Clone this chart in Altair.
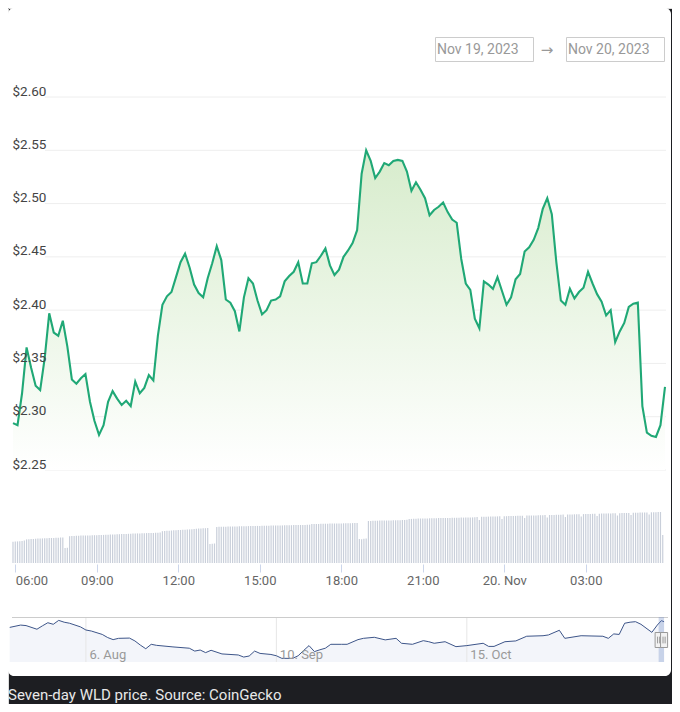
import altair as alt
import pandas as pd

# ---------------- data ----------------
price_start = "2023-11-19T05:55Z"
prices = [
    2.294, 2.292, 2.322, 2.365, 2.346, 2.329, 2.325, 2.355, 2.397, 2.379,
    2.376, 2.390, 2.366, 2.335, 2.331, 2.336, 2.340, 2.314, 2.296, 2.283,
    2.292, 2.314, 2.324, 2.317, 2.311, 2.315, 2.310, 2.333, 2.322, 2.327,
    2.339, 2.334, 2.376, 2.405, 2.413, 2.417, 2.431, 2.445, 2.453, 2.440,
    2.424, 2.416, 2.412, 2.430, 2.444, 2.460, 2.447, 2.410, 2.407, 2.399,
    2.380, 2.412, 2.430, 2.425, 2.409, 2.396, 2.400, 2.409, 2.410, 2.413,
    2.427, 2.432, 2.436, 2.445, 2.425, 2.425, 2.444, 2.445, 2.451, 2.458,
    2.442, 2.433, 2.438, 2.450, 2.456, 2.463, 2.475, 2.528, 2.550, 2.540,
    2.524, 2.530, 2.538, 2.536, 2.540, 2.541, 2.540, 2.530, 2.512, 2.520,
    2.513, 2.505, 2.489, 2.494, 2.497, 2.501, 2.492, 2.485, 2.482, 2.448,
    2.425, 2.419, 2.392, 2.383, 2.427, 2.424, 2.420, 2.431, 2.418, 2.405,
    2.412, 2.429, 2.434, 2.455, 2.459, 2.466, 2.477, 2.495, 2.505, 2.490,
    2.445, 2.409, 2.405, 2.420, 2.411, 2.417, 2.421, 2.436, 2.425, 2.415,
    2.408, 2.395, 2.400, 2.370, 2.380, 2.388, 2.403, 2.406, 2.407, 2.310,
    2.285, 2.282, 2.281, 2.292, 2.328,
]

volume_start = "2023-11-19T05:55Z"
volumes = [
    212, 214, 216, 218, 220, 224, 236, 238, 240, 241, 243, 244,
    245, 246, 247, 248, 249, 250, 251, 252, 253, 255, 256, 150,
    152, 268, 270, 271, 272, 273, 274, 274, 275, 276, 276, 277,
    278, 278, 279, 280, 281, 282, 283, 284, 285, 286, 287, 288,
    289, 290, 291, 292, 293, 294, 295, 296, 296, 297, 298, 299,
    300, 300, 301, 302, 303, 305, 318, 320, 322, 323, 325, 327,
    328, 329, 330, 332, 333, 334, 336, 338, 340, 342, 344, 346,
    347, 348, 350, 190, 192, 195, 360, 362, 362, 363, 363, 364,
    365, 365, 366, 366, 367, 367, 368, 368, 369, 369, 370, 370,
    371, 371, 372, 372, 373, 373, 374, 374, 375, 375, 376, 376,
    377, 377, 378, 378, 379, 379, 380, 380, 381, 381, 382, 383,
    390, 390, 391, 391, 392, 392, 393, 393, 394, 394, 395, 395,
    396, 396, 397, 397, 398, 398, 399, 399, 400, 240, 238, 242,
    245, 420, 421, 422, 423, 423, 424, 424, 425, 425, 426, 426,
    427, 427, 428, 428, 429, 430, 433, 440, 441, 442, 443, 444,
    445, 445, 446, 446, 447, 447, 448, 448, 449, 449, 450, 450,
    451, 451, 452, 452, 453, 453, 454, 454, 455, 455, 456, 456,
    458, 460, 430, 462, 462, 463, 464, 464, 465, 466, 466, 467,
    440, 468, 468, 469, 470, 470, 471, 472, 472, 473, 450, 474,
    475, 475, 476, 476, 477, 478, 478, 479, 455, 480, 480, 481,
    482, 482, 483, 484, 460, 485, 485, 486, 487, 487, 488, 465,
    489, 490, 490, 491, 492, 492, 470, 493, 494, 494, 495, 496,
    496, 497, 498, 475, 498, 499, 500, 500, 501, 480, 502, 503,
    503, 504, 505, 505, 506, 485, 507, 508, 508, 510, 510, 280,
]

nav_dates = [
    "2023-07-23", "2023-07-25", "2023-07-26", "2023-07-28", "2023-07-29", "2023-07-30", "2023-07-31",
    "2023-08-01", "2023-08-02", "2023-08-03", "2023-08-05", "2023-08-06", "2023-08-07", "2023-08-09",
    "2023-08-10", "2023-08-11", "2023-08-12", "2023-08-14", "2023-08-15", "2023-08-16", "2023-08-17",
    "2023-08-18", "2023-08-19", "2023-08-22", "2023-08-25", "2023-08-26", "2023-08-27", "2023-08-28",
    "2023-08-29", "2023-08-31",
    "2023-09-03", "2023-09-04", "2023-09-05", "2023-09-06", "2023-09-07", "2023-09-09", "2023-09-10",
    "2023-09-11", "2023-09-13", "2023-09-14", "2023-09-15", "2023-09-16", "2023-09-17", "2023-09-18",
    "2023-09-19", "2023-09-20", "2023-09-22", "2023-09-23", "2023-09-25", "2023-09-26", "2023-09-28",
    "2023-09-30",
    "2023-10-02", "2023-10-03", "2023-10-05", "2023-10-07", "2023-10-08", "2023-10-09", "2023-10-11",
    "2023-10-13", "2023-10-15", "2023-10-18", "2023-10-19", "2023-10-20", "2023-10-22", "2023-10-24",
    "2023-10-26", "2023-10-29", "2023-10-30",
    "2023-11-01", "2023-11-02", "2023-11-05", "2023-11-07", "2023-11-09", "2023-11-10", "2023-11-11",
    "2023-11-12", "2023-11-13", "2023-11-14", "2023-11-15", "2023-11-16", "2023-11-18",
    "2023-11-19T00:00", "2023-11-19T18:00", "2023-11-20T06:00",
]
nav_prices = [
    2.19, 2.28, 2.26, 2.12, 2.25, 2.37, 2.31,
    2.46, 2.39, 2.35, 2.21, 2.09, 2.05, 1.92, 1.80, 1.72, 1.77, 1.78, 1.67, 1.51, 1.37,
    1.54, 1.50, 1.44, 1.39, 1.28, 1.32, 1.22, 1.31, 1.17,
    1.13, 1.05, 1.09, 1.28, 1.19, 1.15, 1.10, 1.00, 1.00, 1.10, 1.30, 1.49, 1.26, 1.33,
    1.39, 1.54, 1.54, 1.54, 1.72, 1.77, 1.81, 1.71,
    1.77, 1.58, 1.54, 1.68, 1.64, 1.58, 1.64, 1.45, 1.49, 1.58, 1.46, 1.46, 1.64, 1.67,
    1.85, 1.87, 1.90,
    2.08, 1.77, 1.87, 1.86, 1.85, 1.77, 1.94, 1.92, 2.35, 2.39, 2.41, 2.31, 2.00,
    2.28, 2.45, 2.41,
]

y_ticks = [2.25, 2.30, 2.35, 2.40, 2.45, 2.50, 2.55, 2.60]
x_tick_times = ["2023-11-19T06:00Z", "2023-11-19T09:00Z", "2023-11-19T12:00Z", "2023-11-19T15:00Z",
                "2023-11-19T18:00Z", "2023-11-19T21:00Z", "2023-11-20T00:00Z", "2023-11-20T03:00Z"]
nav_tick_dates = ["2023-08-06T00:00Z", "2023-09-10T00:00Z", "2023-10-15T00:00Z"]
main_span = ["2023-11-19T05:55Z", "2023-11-20T05:55Z"]
nav_span = ["2023-07-23T10:00Z", "2023-11-20T10:00Z"]
range_labels = ["Nov 19, 2023", "Nov 20, 2023"]
range_ends = ["2023-11-19T05:55Z", "2023-11-20T05:55Z"]
caption = "Seven-day WLD price. Source: CoinGecko"


def ms(s):
    return int(pd.Timestamp(s).value // 10**6)


def ms_list(values):
    return [int(v) for v in (pd.DatetimeIndex(pd.to_datetime(values, format="ISO8601", utc=True)).asi8 // 10**6)]


W, H = 664, 696
FONT = "Roboto"


def px_domain(span, p0, p1, width):
    # domain such that span[0] sits at pixel p0 and span[1] at pixel p1 on a [0, width] range
    a, b = ms(span[0]), ms(span[1])
    per_px = (b - a) / (p1 - p0)
    return [a - p0 * per_px, b + (width - p1) * per_px]


# ---------------- tables ----------------
price_df = pd.DataFrame({
    "t": ms_list(pd.date_range(price_start, periods=len(prices), freq="10min")),
    "price": prices,
})
vol_df = pd.DataFrame({
    "t": ms_list(pd.date_range(volume_start, periods=len(volumes), freq="5min")),
    "volume": volumes,
})
nav_df = pd.DataFrame({"d": ms_list(nav_dates), "nav": nav_prices})
nav_tick_df = pd.DataFrame({"d": ms_list(nav_tick_dates)})
range_df = pd.DataFrame({"start": [ms(range_ends[0])], "end": [ms(range_ends[1])]})
handle_df = pd.DataFrame({"d": ms_list(range_ends)})
one = pd.DataFrame({"a": [0]})

main_x = alt.Scale(domain=px_domain(main_span, 5, 657, W), nice=False, zero=False)
main_y = alt.Scale(domain=[2.25, 2.60], range=[462, 89], nice=False, zero=False)
vol_y = alt.Scale(domain=[0, 580], range=[555, 497], nice=False)
nav_x = alt.Scale(domain=px_domain(nav_span, 4, 657, W), nice=False, zero=False)
nav_y = alt.Scale(domain=[0.86, 2.59], range=[654, 609], nice=False, zero=False)

# ---------------- layers ----------------
card = alt.Chart(one).mark_rect(color="#ffffff", cornerRadius=6).encode(
    x=alt.value(0), x2=alt.value(663), y=alt.value(0), y2=alt.value(668))

box1 = alt.Chart(one).mark_rect(fill="#ffffff", stroke="#cccccc", strokeWidth=1).encode(
    x=alt.value(427.5), x2=alt.value(525.5), y=alt.value(29.5), y2=alt.value(53.5))
box2 = alt.Chart(one).mark_rect(fill="#ffffff", stroke="#cccccc", strokeWidth=1).encode(
    x=alt.value(558.5), x2=alt.value(656.5), y=alt.value(29.5), y2=alt.value(53.5))
txt1 = alt.Chart(one).mark_text(text=range_labels[0], align="left", baseline="middle",
                                fontSize=14, color="#999999", font=FONT).encode(
    x=alt.value(429), y=alt.value(41.5))
txt2 = alt.Chart(one).mark_text(text=range_labels[1], align="left", baseline="middle",
                                fontSize=14, color="#999999", font=FONT).encode(
    x=alt.value(560), y=alt.value(41.5))
arrow = alt.Chart(one).mark_text(text="→", align="center", baseline="middle",
                                 fontSize=15, color="#999999", font="DejaVu Sans").encode(
    x=alt.value(539), y=alt.value(42))

grid = alt.Chart(pd.DataFrame({"tick": y_ticks})).mark_rule(color="#eeeeee", strokeWidth=1).encode(
    y=alt.Y("tick:Q", scale=main_y, axis=None),
    x=alt.value(37), x2=alt.value(658))

grad = alt.Gradient(
    gradient="linear",
    stops=[alt.GradientStop(color="#d7eccc", offset=0),
           alt.GradientStop(color="#ffffff", offset=1)],
    x1=1, x2=1, y1=0, y2=1)

area = alt.Chart(price_df).mark_area(color=grad).encode(
    x=alt.X("t:Q", scale=main_x, axis=None),
    y=alt.Y("price:Q", scale=main_y, axis=None),
    y2=alt.datum(2.25))

line = alt.Chart(price_df).mark_line(color="#20a876", strokeWidth=2.1).encode(
    x=alt.X("t:Q", scale=main_x, axis=None),
    y=alt.Y("price:Q", scale=main_y, title=None,
            axis=alt.Axis(orient="left", offset=-4, values=y_ticks, format="$.2f",
                          labelAlign="left", labelBaseline="alphabetic", labelOffset=-2,
                          labelPadding=0, tickSize=0, ticks=False, domain=False, grid=False,
                          labelColor="#444444", labelFontSize=13.5, labelFont=FONT, zindex=2)))

volume = alt.Chart(vol_df).mark_rule(color="#c9cfda", strokeWidth=1.2).encode(
    x=alt.X("t:Q", scale=main_x, title=None,
            axis=alt.Axis(orient="bottom", offset=556 - H,
                          values=ms_list(x_tick_times),
                          labelExpr="utchours(datum.value) == 0 ? utcFormat(datum.value, '%-d. %b') : utcFormat(datum.value, '%H:%M')",
                          tickColor="#ccd6eb", tickSize=8, labelPadding=2, labelFlush=10,
                          domain=False, grid=False, labelColor="#666666",
                          labelFontSize=13, labelFont=FONT, zindex=2)),
    y=alt.Y("volume:Q", scale=vol_y, axis=None),
    y2=alt.datum(0))

nav_grid = alt.Chart(nav_tick_df).mark_rule(color="#e6e6e6").encode(
    x=alt.X("d:Q", scale=nav_x, title=None,
            axis=alt.Axis(orient="bottom", offset=654 - H,
                          values=ms_list(nav_tick_dates),
                          labelExpr="utcFormat(datum.value, '%-d. %b')",
                          labelAlign="left", labelBaseline="alphabetic",
                          labelPadding=-4, labelOffset=3, tickSize=0, ticks=False,
                          domain=False, grid=False, labelFlush=False,
                          labelColor="#999999", labelFontSize=13, labelFont=FONT, zindex=2)),
    y=alt.value(609), y2=alt.value(654))

nav_area = alt.Chart(nav_df).mark_area(color="#335cad", opacity=0.06).encode(
    x=alt.X("d:Q", scale=nav_x, axis=None),
    y=alt.Y("nav:Q", scale=nav_y, axis=None),
    y2=alt.datum(0.86))
nav_line = alt.Chart(nav_df).mark_line(color="#3d5589", strokeWidth=1).encode(
    x=alt.X("d:Q", scale=nav_x, axis=None),
    y=alt.Y("nav:Q", scale=nav_y, axis=None))

nav_top = alt.Chart(one).mark_rule(color="#cccccc", strokeWidth=1).encode(
    x=alt.value(4), x2=alt.value(660), y=alt.value(609.5))

mask = alt.Chart(range_df).mark_rect(color="#6685c2", opacity=0.3).encode(
    x=alt.X("start:Q", scale=nav_x, axis=None), x2="end:Q",
    y=alt.value(609), y2=alt.value(654))

handles = alt.Chart(handle_df).mark_point(
    shape="M-0.47,-1H0.47V1H-0.47Z", size=225, filled=True, fill="#f2f2f2",
    stroke="#999999", strokeWidth=1, opacity=1).encode(
    x=alt.X("d:Q", scale=nav_x, axis=None), y=alt.value(632))
grips = alt.Chart(handle_df).mark_point(
    shape="M-0.14,-0.45V0.45M0.14,-0.45V0.45", size=225, filled=False,
    stroke="#999999", strokeWidth=1, opacity=1).encode(
    x=alt.X("d:Q", scale=nav_x, axis=None), y=alt.value(632))

cap = alt.Chart(one).mark_text(text=caption, align="left", baseline="alphabetic",
                               fontSize=15, color="#e8e8e8", font=FONT).encode(
    x=alt.value(0), y=alt.value(692))

chart = alt.layer(
    card, box1, box2, txt1, txt2, arrow,
    grid, area, line, volume,
    nav_area, nav_grid, nav_line, nav_top, mask, handles, grips,
    cap,
).resolve_scale(x="independent", y="independent").properties(
    width=W, height=H,
    autosize=alt.AutoSizeParams(type="none"),
    padding=0,
    background="#1d1e22",
).configure_view(strokeWidth=0).configure(font=FONT)

chart.save("out.html", embed_options={"renderer": "svg", "actions": False})
